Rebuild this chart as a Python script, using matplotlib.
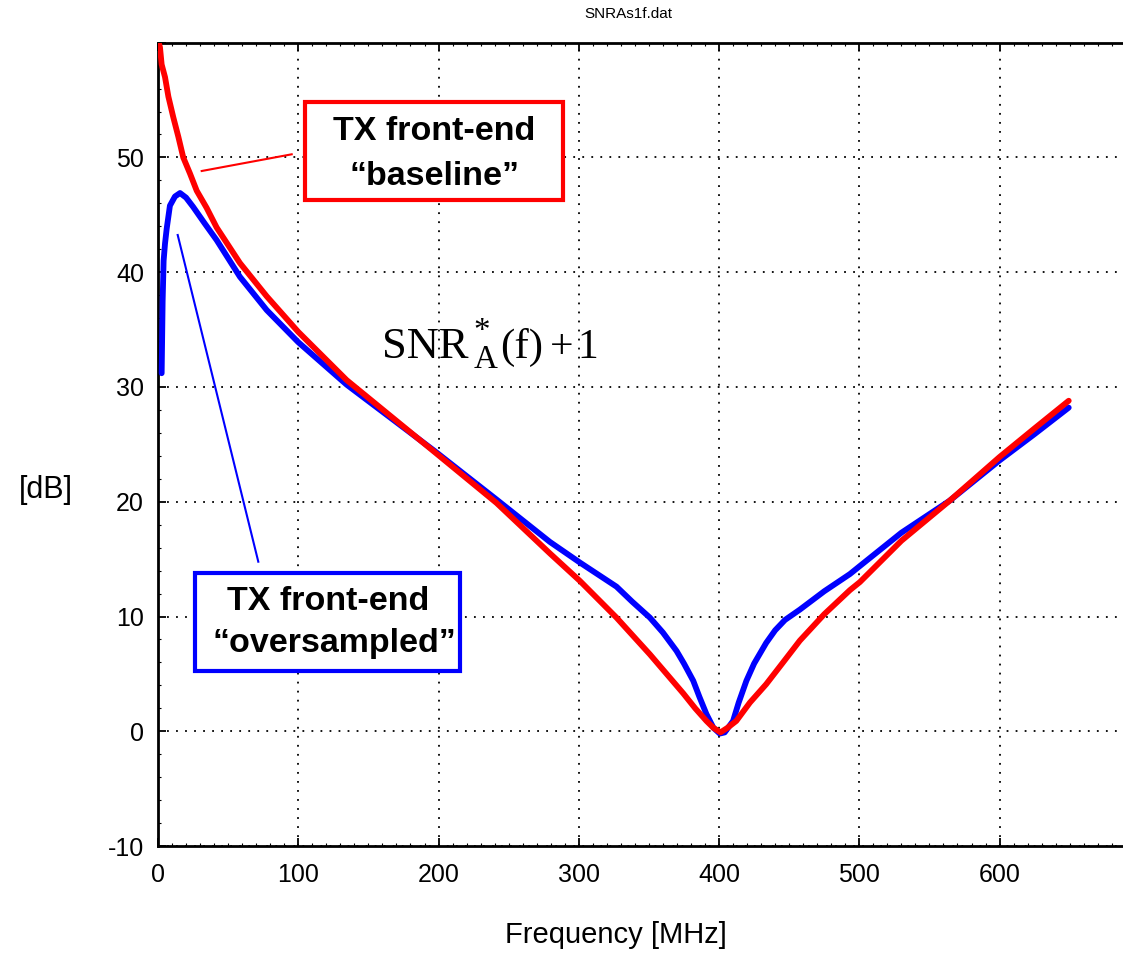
import numpy as np
import matplotlib
matplotlib.use("Agg")
import matplotlib.pyplot as plt
from matplotlib.ticker import MultipleLocator
from matplotlib.patches import Rectangle
from matplotlib.lines import Line2D

plt.rcParams['font.family'] = ['Liberation Sans', 'DejaVu Sans']
plt.rcParams['mathtext.fontset'] = 'custom'
plt.rcParams['mathtext.rm'] = 'Liberation Serif'
plt.rcParams['mathtext.it'] = 'Liberation Serif:italic'

# SNR curves (frequency in MHz, level in dB)
f_base = [0.5, 1.4, 2.6, 5.0, 7.4, 10.9, 14.5, 18.0, 22.8, 27.6, 34.7, 41.8, 58.4, 77.5,
          100, 134.5, 198.5, 241.3, 279.4, 300.8, 326.9, 350.7, 374.5, 383, 391, 396,
          401, 406, 412.3, 422, 433.6, 445, 457.6, 475, 493.3, 500.4, 530, 564.5, 600,
          625, 649.3]
db_base = [60.0, 59.6, 58.1, 57.0, 55.3, 53.5, 51.8, 50.0, 48.6, 47.1, 45.6, 43.9, 40.8, 37.9,
           34.8, 30.6, 24.2, 19.9, 15.5, 13.1, 9.9, 6.7, 3.3, 2.0, 0.9, 0.3,
           -0.1, 0.3, 0.9, 2.5, 4.1, 5.9, 7.9, 10.2, 12.3, 13.0, 16.6, 20.1, 23.9,
           26.4, 28.8]

f_over = [2.6, 3.3, 4.0, 5.0, 6.2, 8.5, 12.1, 15.7, 20, 25, 33, 41.8, 58.4, 77.5, 100,
          134.5, 198.5, 241.3, 279.4, 300.8, 326.9, 338, 350.7, 360, 369.7, 375, 381.6,
          386, 391, 396, 400.5, 404, 410, 414, 419.5, 425, 433.6, 440, 447, 457.6, 475,
          493.3, 500.4, 530, 564.5, 600, 625, 649.3]
db_over = [31.2, 37.5, 41.0, 42.5, 43.8, 45.8, 46.6, 46.9, 46.5, 45.7, 44.3, 42.8, 39.6, 36.7,
           33.9, 30.2, 24.3, 20.2, 16.5, 14.7, 12.6, 11.3, 9.9, 8.6, 7.0, 5.9, 4.4,
           3.0, 1.5, 0.3, -0.2, -0.1, 0.9, 2.5, 4.4, 5.9, 7.7, 8.8, 9.7, 10.6, 12.2,
           13.7, 14.4, 17.3, 20.1, 23.6, 25.9, 28.2]

xticks = [0, 100, 200, 300, 400, 500, 600]
yticks = [-10, 0, 10, 20, 30, 40, 50, 60]
ytick_labels = ['-10', '0', '10', '20', '30', '40', '50', '']

W, H = 1123, 955


def fx(x):
    return x / W


def fy(y):
    return 1 - y / H


fig = plt.figure(figsize=(W / 100, H / 100), dpi=100)
ax = fig.add_axes([0.1407, 0.1141, 0.8593, 0.8412])

ax.plot(f_over, db_over, color='#0000ff', lw=4.2, solid_capstyle='round', zorder=3)
ax.plot(f_base, db_base, color='#ff0000', lw=4.2, solid_capstyle='round', zorder=4)

ax.set_xlim(0, 688)
ax.set_ylim(-10, 60)
ax.set_xticks(xticks)
ax.set_yticks(yticks)
ax.set_yticklabels(ytick_labels)
ax.xaxis.set_minor_locator(MultipleLocator(10))
ax.yaxis.set_minor_locator(MultipleLocator(2))

ax.grid(True, which='major', color='black', linestyle=(0, (1, 4)), linewidth=1.3)
ax.tick_params(which='major', direction='in', length=6, width=1.3, labelsize=18,
               top=True, pad=12)
ax.tick_params(axis='y', which='major', pad=10)
ax.tick_params(which='minor', direction='in', length=2.5, width=0.8, top=True)
for s in ['left', 'top', 'bottom']:
    ax.spines[s].set_linewidth(2)
ax.spines['right'].set_visible(False)

# annotation boxes (pixel layout)
fig.add_artist(Rectangle((fx(305), fy(200)), (563 - 305) / W, (200 - 101.7) / H,
                         transform=fig.transFigure, fc='white', ec='#ff0000', lw=3, zorder=5))
fig.text(fx(434), fy(140), 'TX front-end', fontsize=24.5, fontweight='bold',
         ha='center', va='baseline', zorder=6)
fig.text(fx(435), fy(185), '\u201cbaseline\u201d', fontsize=24.5, fontweight='bold',
         ha='center', va='baseline', zorder=6)
fig.add_artist(Line2D([fx(201.7), fx(291.7)], [fy(171), fy(154.3)],
                      transform=fig.transFigure, color='#ff0000', lw=1.5, zorder=5))

fig.add_artist(Rectangle((fx(195), fy(670.7)), (460 - 195) / W, (670.7 - 572.7) / H,
                         transform=fig.transFigure, fc='white', ec='#0000ff', lw=3, zorder=5))
fig.text(fx(328), fy(610), 'TX front-end', fontsize=24.5, fontweight='bold',
         ha='center', va='baseline', zorder=6)
fig.text(fx(334), fy(651.7), '\u201coversampled\u201d', fontsize=24.5, fontweight='bold',
         ha='center', va='baseline', zorder=6)
fig.add_artist(Line2D([fx(177.7), fx(258.3)], [fy(235), fy(561.7)],
                      transform=fig.transFigure, color='#0000ff', lw=1.5, zorder=5))

# SNR*_A(f) + 1 label
serif = ['Liberation Serif', 'DejaVu Serif']
fig.text(fx(381.7), fy(358.3), 'SNR', fontsize=32, family=serif, ha='left', va='baseline')
fig.text(fx(473), fy(358.3), r'${}^{*}_{\mathrm{A}}$', fontsize=34, ha='left', va='baseline')
fig.text(fx(500), fy(358.3), '(f)', fontsize=31, family=serif, ha='left', va='baseline')
fig.text(fx(550), fy(358.3), '+', fontsize=30, family=serif, ha='left', va='baseline')
fig.text(fx(577), fy(358.3), '1', fontsize=30, family=serif, ha='left', va='baseline')

fig.text(fx(628), fy(14), 'SNRAs1f.dat', fontsize=11, ha='center', va='center')
fig.text(fx(616), fy(935), 'Frequency [MHz]', fontsize=21, ha='center', va='center')
fig.text(fx(46), fy(490), '[dB]', fontsize=22, ha='center', va='center')

fig.savefig('out.png', dpi=100)
